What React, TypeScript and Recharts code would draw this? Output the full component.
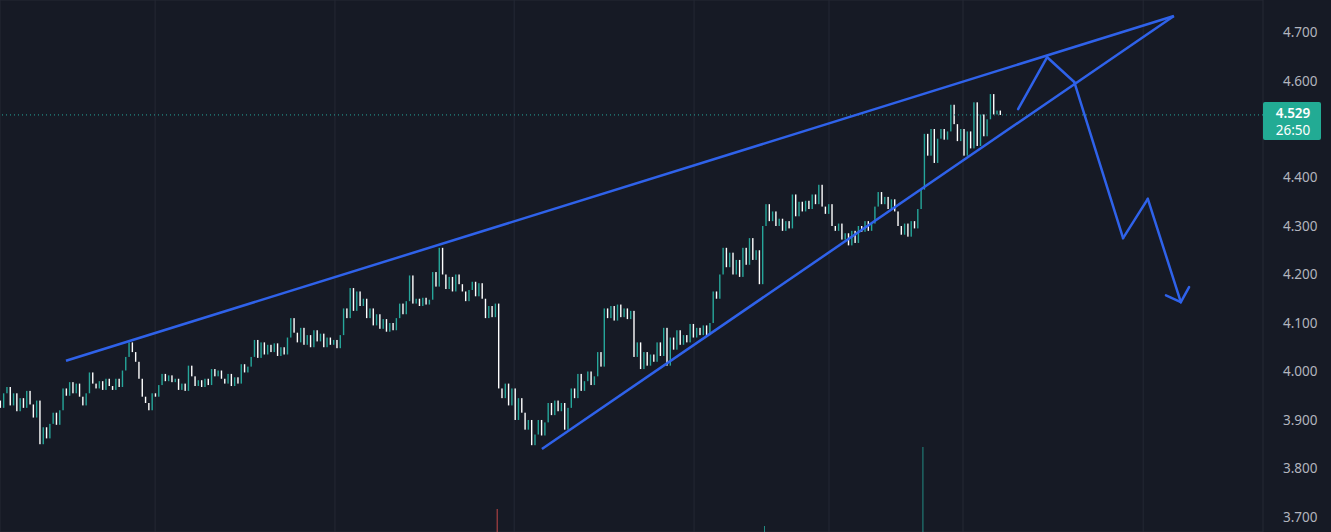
import { ComposedChart, Bar, XAxis, YAxis, CartesianGrid, ReferenceLine } from 'recharts';

// candle closes, one per bar (open = previous close)
const firstOpen = 3.94;
const closes = [
  3.925, 3.955, 3.968, 3.930, 3.955, 3.918, 3.945, 3.925, 3.960, 3.932,
  3.905, 3.940, 3.850, 3.885, 3.862, 3.892, 3.915, 3.890, 3.920, 3.965,
  3.950, 3.978, 3.955, 3.975, 3.948, 3.930, 3.955, 3.998, 3.975, 3.965,
  3.980, 3.962, 3.985, 3.970, 3.962, 3.985, 3.968, 4.002, 4.030, 4.060,
  4.040, 4.020, 3.985, 3.948, 3.935, 3.920, 3.955, 3.948, 3.972, 3.995,
  3.980, 3.992, 3.978, 3.985, 3.962, 3.975, 3.960, 4.012, 3.990, 3.970,
  3.982, 3.968, 3.985, 3.972, 4.005, 3.990, 4.002, 3.985, 3.975, 3.995,
  3.970, 3.988, 3.975, 4.015, 3.998, 4.010, 4.030, 4.065, 4.028, 4.060,
  4.035, 4.055, 4.040, 4.058, 4.032, 4.050, 4.035, 4.070, 4.110, 4.080,
  4.060, 4.090, 4.055, 4.075, 4.050, 4.085, 4.062, 4.078, 4.050, 4.070,
  4.055, 4.065, 4.048, 4.075, 4.130, 4.110, 4.172, 4.125, 4.165, 4.135,
  4.150, 4.110, 4.130, 4.095, 4.118, 4.088, 4.108, 4.082, 4.100, 4.085,
  4.110, 4.140, 4.118, 4.145, 4.198, 4.140, 4.150, 4.135, 4.152, 4.138,
  4.148, 4.205, 4.175, 4.255, 4.200, 4.170, 4.195, 4.165, 4.200, 4.180,
  4.165, 4.145, 4.168, 4.185, 4.155, 4.182, 4.150, 4.110, 4.135, 4.112,
  4.140, 3.965, 3.945, 3.975, 3.930, 3.965, 3.900, 3.945, 3.915, 3.880,
  3.900, 3.848, 3.870, 3.900, 3.868, 3.895, 3.935, 3.910, 3.940, 3.918,
  3.935, 3.880, 3.925, 3.965, 3.945, 3.995, 3.960, 3.980, 4.000, 3.972,
  3.990, 4.040, 4.010, 4.130, 4.110, 4.135, 4.105, 4.138, 4.112, 4.130,
  4.108, 4.125, 4.030, 4.060, 4.005, 4.040, 4.012, 4.035, 4.020, 4.060,
  4.032, 4.090, 4.012, 4.070, 4.045, 4.085, 4.055, 4.075, 4.060, 4.098,
  4.070, 4.090, 4.075, 4.095, 4.075, 4.100, 4.165, 4.150, 4.200, 4.255,
  4.215, 4.245, 4.200, 4.230, 4.195, 4.255, 4.220, 4.275, 4.230, 4.250,
  4.180, 4.300, 4.345, 4.310, 4.330, 4.300, 4.315, 4.290, 4.310, 4.295,
  4.365, 4.320, 4.350, 4.330, 4.352, 4.335, 4.365, 4.345, 4.385, 4.340,
  4.325, 4.345, 4.300, 4.290, 4.305, 4.272, 4.285, 4.260, 4.290, 4.265,
  4.300, 4.288, 4.310, 4.290, 4.305, 4.340, 4.370, 4.345, 4.360, 4.335,
  4.355, 4.330, 4.300, 4.282, 4.305, 4.278, 4.310, 4.295, 4.335, 4.375,
  4.490, 4.445, 4.500, 4.430, 4.480, 4.500, 4.478, 4.495, 4.550, 4.510,
  4.475, 4.500, 4.445, 4.495, 4.460, 4.555, 4.465, 4.530, 4.485, 4.520,
  4.572, 4.530, 4.538, 4.529,
];

const priceTicks = [3.7, 3.8, 3.9, 4.0, 4.1, 4.2, 4.3, 4.4, 4.5, 4.6, 4.7];
const gridTicks = [47, 101.5, 155.8, 210.3, 251.2, 291.8, 346.4];

const volumeIdx = [151, 232, 280];
const volumeVals = [230, 60, 850];
const volumeUp = [false, true, true];

const lastPrice = 4.529;
const countdown = '26:50';

// drawn trendlines and the projected path (bar index, price)
const upperLine = [{ x: 20, y: 4.022 }, { x: 355.7, y: 4.733 }];
const lowerLine = [{ x: 164.2, y: 3.84 }, { x: 355.7, y: 4.733 }];
const pathX = [308.5, 317.3, 325.5, 340.3, 347.8, 357.8];
const pathY = [4.541, 4.648, 4.597, 4.275, 4.356, 4.143];
const headX = [353.3, 357.8, 360.3];
const headY = [4.157, 4.143, 4.174];

const UP = '#26a69a';
const DOWN = '#ffffff';
const BLUE = '#2f62ea';
const BG = '#161a25';
const GRID = '#242834';

const chartData = closes.map((c, i) => {
  const o = i === 0 ? firstOpen : closes[i - 1];
  const k = volumeIdx.indexOf(i);
  return {
    i,
    body: [Math.min(o, c), Math.max(o, c) + (o === c ? 0.002 : 0)],
    up: c >= o,
    vol: k >= 0 ? volumeVals[k] : 0,
    volUp: k >= 0 ? volumeUp[k] : true,
  };
});

const segments = (xs: number[], ys: number[]) =>
  xs.slice(1).map((x, k) => [{ x: xs[k], y: ys[k] }, { x, y: ys[k + 1] }]);

const Candle = (props: any) => {
  const { x, y, width, height, payload } = props;
  return <rect x={x + 0.3} y={y} width={width - 0.6} height={Math.max(height, 1)} fill={payload.up ? UP : DOWN} />;
};

const VolBar = (props: any) => {
  const { x, y, width, height, payload } = props;
  if (!height) return null;
  return <rect x={x} y={y} width={width} height={height} fill={payload.volUp ? UP : '#ef5350'} opacity={0.8} />;
};

const PriceTick = (props: any) => {
  const { x, y, payload } = props;
  if (Math.abs(payload.value - lastPrice) < 0.045) return null;
  return (
    <text x={x + 12} y={y + 5} fill="#b2b5be" fontSize={13.5} fontFamily="Noto Sans, sans-serif">
      {payload.value.toFixed(3)}
    </text>
  );
};

const PriceLabel = (props: any) => {
  const { viewBox } = props;
  const x = viewBox.x + viewBox.width;
  const y = viewBox.y;
  return (
    <g fontFamily="Noto Sans, sans-serif" fontSize={13.5}>
      <rect x={x} y={y - 13} width={58} height={38} rx={2} fill="#22ab94" />
      <text x={x + 30} y={y + 3} textAnchor="middle" fill="#ffffff" fontWeight={600}>{lastPrice.toFixed(3)}</text>
      <text x={x + 30} y={y + 20} textAnchor="middle" fill="#ffffff">{countdown}</text>
    </g>
  );
};

export default function App() {
  return (
    <div style={{ width: 1331, height: 532, background: BG }}>
      <style>{`body{margin:0;background:${BG};}`}</style>
      <ComposedChart width={1331} height={532} data={chartData} margin={{ top: 0, right: 0, bottom: 0, left: 0 }}>
        <CartesianGrid stroke={GRID} strokeWidth={1} />
        <XAxis dataKey="i" type="number" domain={[0, 382.7]} allowDataOverflow ticks={gridTicks} hide />
        <YAxis
          yAxisId="p"
          orientation="right"
          width={68}
          domain={[3.669, 4.766]}
          allowDataOverflow
          ticks={priceTicks}
          tick={<PriceTick />}
          tickLine={false}
          axisLine={false}
        />
        <YAxis yAxisId="vol" hide domain={[0, 5320]} allowDataOverflow />
        <Bar yAxisId="vol" dataKey="vol" barSize={1} shape={<VolBar />} isAnimationActive={false} />
        <Bar yAxisId="p" dataKey="body" barSize={2} shape={<Candle />} isAnimationActive={false} />
        <ReferenceLine yAxisId="p" y={lastPrice} stroke={UP} strokeDasharray="1 3" label={<PriceLabel />} />
        <ReferenceLine yAxisId="p" segment={upperLine} stroke={BLUE} strokeWidth={2.5} />
        <ReferenceLine yAxisId="p" segment={lowerLine} stroke={BLUE} strokeWidth={2.5} />
        {segments(pathX, pathY).map((s, k) => (
          <ReferenceLine key={'p' + k} yAxisId="p" segment={s} stroke={BLUE} strokeWidth={2.5} strokeLinecap="round" />
        ))}
        {segments(headX, headY).map((s, k) => (
          <ReferenceLine key={'h' + k} yAxisId="p" segment={s} stroke={BLUE} strokeWidth={2.5} strokeLinecap="round" />
        ))}
      </ComposedChart>
    </div>
  );
}
